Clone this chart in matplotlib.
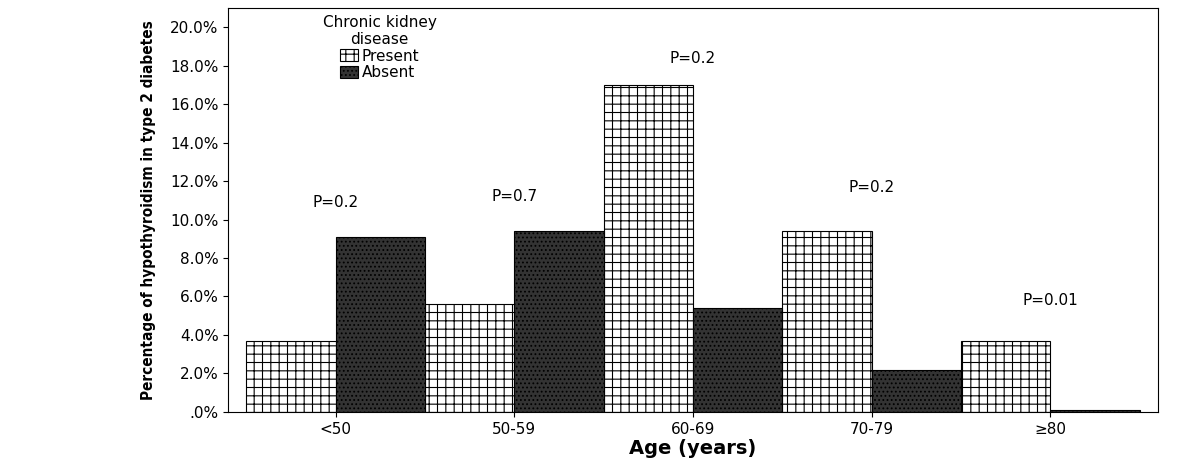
import numpy as np
import matplotlib.pyplot as plt
from matplotlib.ticker import FuncFormatter

plt.rcParams['hatch.linewidth'] = 0.8

age_groups = ["<50", "50-59", "60-69", "70-79", "\u226580"]
present = [3.7, 5.6, 17.0, 9.4, 3.7]
absent = [9.1, 9.4, 5.4, 2.2, 0.1]
p_values = ["P=0.2", "P=0.7", "P=0.2", "P=0.2", "P=0.01"]
p_heights = [10.5, 10.8, 18.0, 11.3, 5.4]

fig = plt.figure(figsize=(12.02, 4.68), dpi=100)
ax = fig.add_axes([0.19, 0.12, 0.773, 0.863])

index = np.arange(len(age_groups))
bar_width = 0.5

ax.bar(index - bar_width / 2, present, bar_width, color="white",
       edgecolor="black", hatch="++", linewidth=0.8, label="Present")
ax.bar(index + bar_width / 2, absent, bar_width, color="#333333",
       edgecolor="black", hatch="....", linewidth=0.8, label="Absent")

for i, (txt, h) in enumerate(zip(p_values, p_heights)):
    ax.text(index[i], h, txt, ha="center", va="bottom", fontsize=11)

ax.set_xlim(-0.6, len(age_groups) - 0.4)
ax.set_ylim(0, 21)
ax.set_yticks(np.arange(0, 21, 2))
ax.yaxis.set_major_formatter(FuncFormatter(lambda v, p: ".0%" if v == 0 else "%.1f%%" % v))
ax.set_xticks(index)
ax.set_xticklabels(age_groups, fontsize=11)
ax.tick_params(axis="y", labelsize=11)
ax.set_xlabel("Age (years)", fontsize=14, fontweight="bold", labelpad=2)
ax.set_ylabel("Percentage of hypothyroidism in type 2 diabetes",
              fontsize=11, fontweight="bold", fontstretch="condensed", labelpad=10)

leg = ax.legend(title="Chronic kidney\ndisease", loc="upper left",
                bbox_to_anchor=(0.09, 1.01), frameon=False, fontsize=11,
                title_fontsize=11, handlelength=1.2, handleheight=0.8,
                handletextpad=0.2, labelspacing=0.1, borderpad=0.2)
leg.get_title().set_multialignment("center")

fig.savefig("out.png", dpi=100)
